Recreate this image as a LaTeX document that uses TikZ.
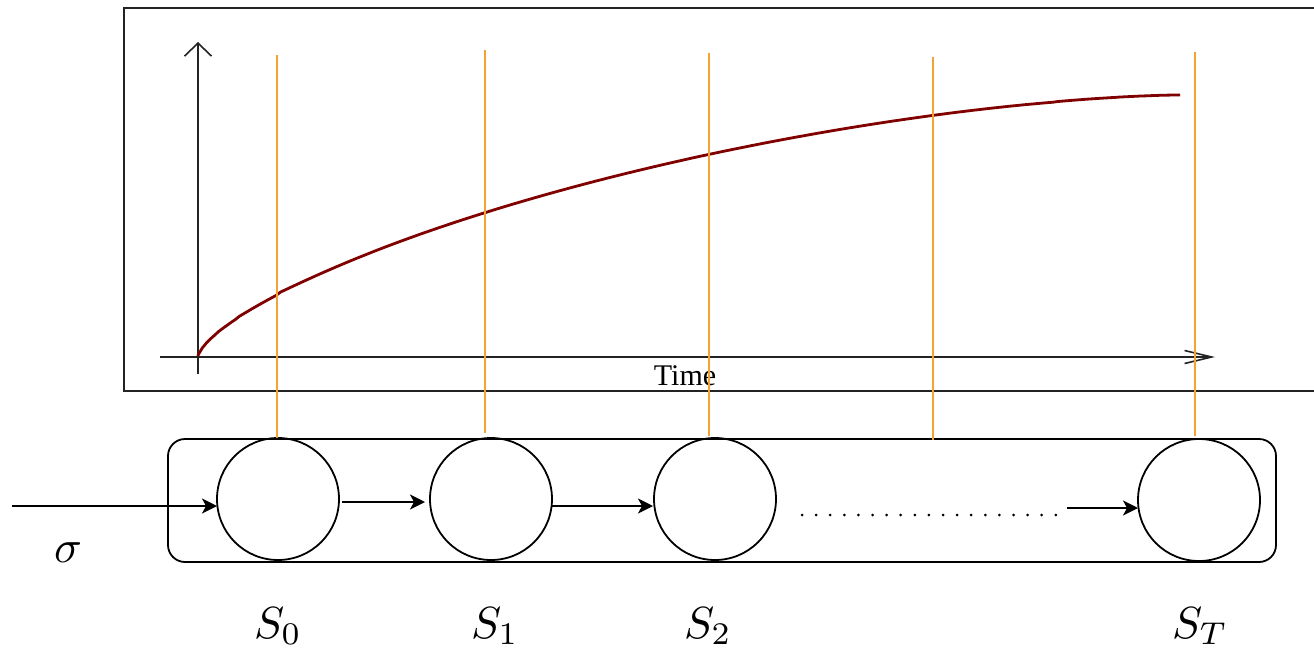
\documentclass[tikz,border=0pt]{standalone}
\usepackage{fontspec}
\setmainfont{Liberation Serif}
\usetikzlibrary{arrows.meta}
\definecolor{orangeline}{RGB}{242,163,55}
\definecolor{curvered}{RGB}{128,0,0}
\definecolor{framegray}{RGB}{35,35,35}
\begin{document}
\begin{tikzpicture}[x=1pt,y=-1pt,
  statenode/.style={circle,draw,line width=1.8pt,minimum size=122pt,inner sep=0pt,outer sep=0pt},
  chainbox/.style={draw,line width=1.8pt,rounded corners=17pt,minimum width=1108pt,minimum height=123pt,inner sep=0pt,outer sep=0pt},
  flow/.style={line width=1.8pt,-{Stealth[length=15pt,width=15pt,inset=4pt]}},
  marker/.style={orangeline,line width=1.8pt},
  axisline/.style={line width=1.6pt,color=framegray},
  framebox/.style={line width=2pt,color=framegray},
  dotline/.style={line width=3pt,line cap=round,dash pattern=on 0pt off 14.1pt},
  curveline/.style={curvered,line width=2.8pt},
  mathlabel/.style={inner sep=0pt,anchor=base},
  timelabel/.style={font=\fontsize{30}{36}\selectfont,inner sep=0pt,anchor=base}
  ]
\useasboundingbox (0,0) rectangle (1314,651);

% top plot frame (open on the right)
\draw[framebox] (1314,8) -- (124,8) -- (124,391) -- (1314,391);

% axes
\coordinate (yaxB) at (198,374);
\coordinate (yaxT) at (198,42);
\coordinate (xaxL) at (160,357);
\coordinate (xaxR) at (1215,357);
\draw[axisline,-{Straight Barb[length=13pt,width=27pt]}] (yaxB) -- (yaxT);
\draw[axisline,-{Straight Barb[length=27pt,width=13pt]}] (xaxL) -- (xaxR);
\node[timelabel] (time) at (685,385) {Time};

% curve
\coordinate (cstart) at (198,356);
\coordinate (cend) at (1180,95);
\draw[curveline,line join=round] (cstart) -- plot[domain=0.0004:0.9995,samples=240,variable=\u] ({198+982*\u},{356-261*pow(1-pow(1-\u,1.6),0.7)}) -- (cend);

% bottom chain
\node[chainbox] (chain) at (722,500.5) {};
\node[statenode] (s0) at (278,499) {};
\node[statenode] (s1) at (491,499) {};
\node[statenode] (s2) at (715,499) {};
\node[statenode] (sT) at (1199,500) {};

% orange time markers
\coordinate (m0t) at (277,55);  \coordinate (m0b) at (277,438);
\coordinate (m1t) at (485,50);  \coordinate (m1b) at (485,433);
\coordinate (m2t) at (709,53);  \coordinate (m2b) at (709,436);
\coordinate (m3t) at (933,57);  \coordinate (m3b) at (933,440);
\coordinate (m4t) at (1195,52); \coordinate (m4b) at (1195,436);
\draw[marker] (m0t) -- (m0b);
\draw[marker] (m1t) -- (m1b);
\draw[marker] (m2t) -- (m2b);
\draw[marker] (m3t) -- (m3b);
\draw[marker] (m4t) -- (m4b);

% arrows
\coordinate (in) at (12,506);
\draw[flow] (in) -- (in -| s0.west);
\draw[flow] ([shift={(3,3)}]s0.east) -- ([shift={(-5,3)}]s1.west);
\draw[flow] ([shift={(0,7)}]s1.east) -- ([shift={(-1,7)}]s2.west);
\coordinate (dotsL) at (802,515);
\coordinate (dotsR) at (1056,515);
\draw[dotline] (dotsL) -- (dotsR);
\coordinate (lastin) at (1067,508);
\draw[flow] (lastin) -- (lastin -| sT.west);

% labels
\node[mathlabel] (sigma) at (68,562) {\scalebox{4.6}{$\sigma$}};
\node[mathlabel] (l0) at (278,638) {\scalebox{4.5}{$S_0$}};
\node[mathlabel] (l1) at (495,638) {\scalebox{4.5}{$S_1$}};
\node[mathlabel] (l2) at (708,638) {\scalebox{4.5}{$S_2$}};
\node[mathlabel] (lT) at (1200,638) {\scalebox{4.5}{$S_T$}};
\end{tikzpicture}
\end{document}
